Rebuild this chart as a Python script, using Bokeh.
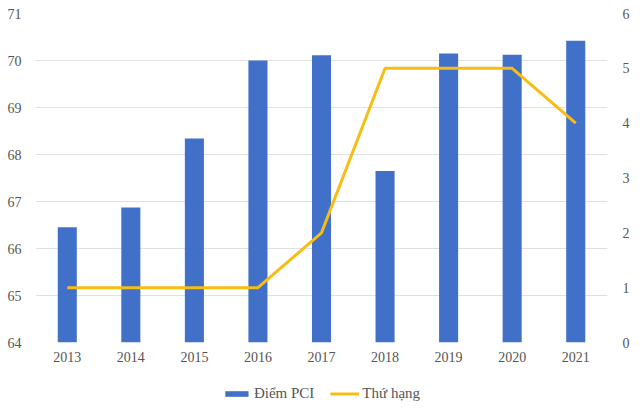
from bokeh.plotting import figure
from bokeh.layouts import column
from bokeh.models import Range1d, LinearAxis, Legend, LegendItem, FixedTicker
from bokeh.embed import file_html
from bokeh.resources import INLINE

years = ["2013", "2014", "2015", "2016", "2017", "2018", "2019", "2020", "2021"]
pci = [66.45, 66.87, 68.34, 70.00, 70.11, 67.65, 70.15, 70.12, 70.42]
rank = [1, 1, 1, 1, 2, 5, 5, 5, 4]
legend_labels = ["Điểm PCI", "Thứ hạng"]

FONT = "Liberation Serif"
GREY = "#555555"
BAR = "#4170c8"
LINE = "#f7bd12"

p = figure(x_range=years, y_range=Range1d(64, 71), width=632, height=364,
           output_backend="svg", toolbar_location=None,
           min_border_left=35, min_border_right=23, min_border_top=13, min_border_bottom=0)
p.extra_y_ranges = {"rank": Range1d(0, 6)}

p.vbar(x=years, top=pci, bottom=64, width=0.3, fill_color=BAR, line_color=None)
p.line(x=years, y=rank, y_range_name="rank", line_color=LINE, line_width=3)

ra = LinearAxis(y_range_name="rank", ticker=FixedTicker(ticks=list(range(0, 7))))
p.add_layout(ra, "right")
p.yaxis[0].ticker = FixedTicker(ticks=list(range(64, 72)))

for ax in p.axis:
    ax.axis_line_color = None
    ax.major_tick_line_color = None
    ax.minor_tick_line_color = None
    ax.major_label_text_font = FONT
    ax.major_label_text_font_size = "14px"
    ax.major_label_text_color = GREY
    ax.major_label_standoff = 8
p.xaxis.major_label_standoff = 3
ra.major_label_standoff = 9

p.xgrid.grid_line_color = None
p.ygrid.grid_line_color = "#e0e0e0"
p.outline_line_color = None

# legend strip
lf = figure(width=632, height=46, x_range=Range1d(0, 1), y_range=Range1d(0, 1),
            output_backend="svg", toolbar_location=None,
            min_border=0)
lf.axis.visible = False
lf.grid.visible = False
lf.outline_line_color = None
rb = lf.vbar(x=[5], top=[5], bottom=[4], width=0.1, fill_color=BAR, line_color=None)
rl = lf.line(x=[5, 6], y=[5, 5], line_color=LINE, line_width=3)
legend = Legend(items=[LegendItem(label=legend_labels[0], renderers=[rb]),
                       LegendItem(label=legend_labels[1], renderers=[rl])],
                orientation="horizontal", location="bottom_center", margin=8,
                label_text_font=FONT, label_text_font_size="15px", label_text_color=GREY,
                border_line_color=None, background_fill_alpha=0,
                glyph_width=29, glyph_height=7, label_standoff=3, spacing=16)
lf.add_layout(legend)

layout = column(p, lf, spacing=0)
open("out.html", "w").write(file_html(layout, INLINE))
